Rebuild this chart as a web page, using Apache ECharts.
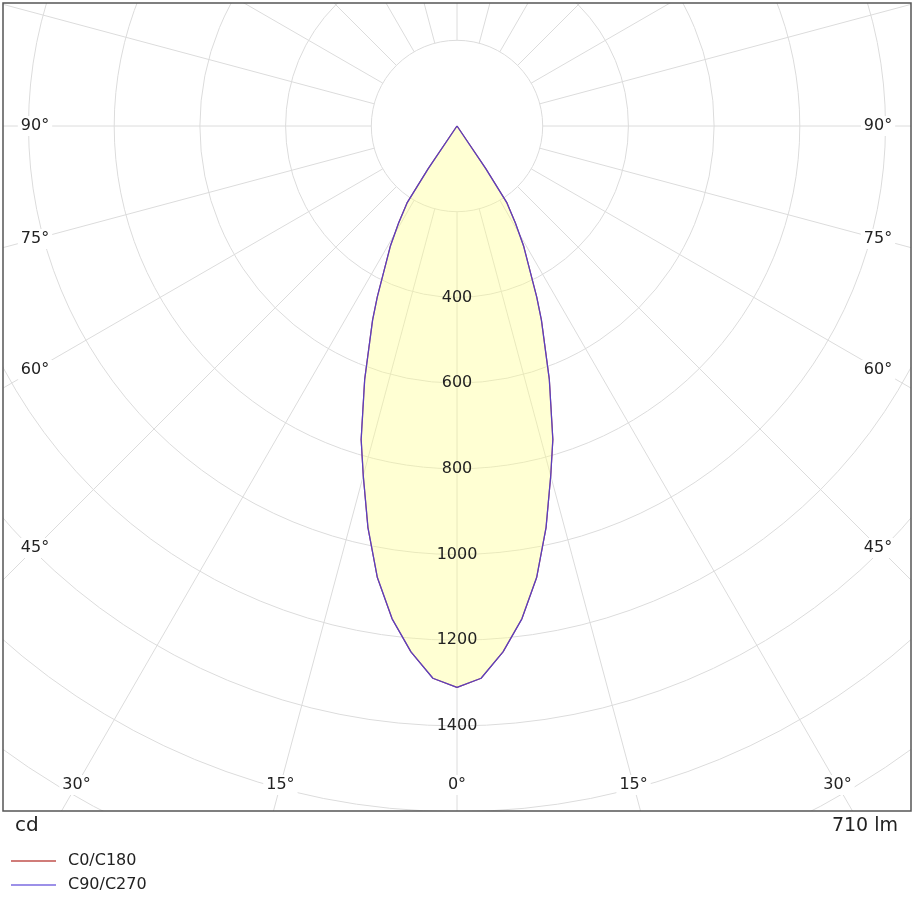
<!DOCTYPE html>
<html><head><meta charset="utf-8">
<script src="https://cdn.jsdelivr.net/npm/echarts@6/dist/echarts.min.js"></script>
<style>html,body{margin:0;padding:0;background:#fff}#c{width:913px;height:900px}</style>
</head><body><div id="c"></div>
<script>
const gammaAngles = [0, 2.5, 5, 7.5, 10, 12.5, 15, 17, 20, 23.5, 25, 29, 31, 33, 34, 35, 40, 50, 60, 70, 80, 90];
const c0c180 =      [1310, 1290, 1232, 1160, 1070, 960, 845, 765, 630, 494, 440, 321, 265, 214, 120, 0, 0, 0, 0, 0, 0, 0];
const c90c270 =     [1310, 1290, 1232, 1160, 1070, 960, 845, 765, 630, 494, 440, 321, 265, 214, 120, 0, 0, 0, 0, 0, 0, 0];
const ringLabels = [400, 600, 800, 1000, 1200, 1400];
const sideAngleLabels = [90, 75, 60, 45];
const bottomAngleLabels = [0, 15, 30];
const seriesNames = ['C0/C180', 'C90/C270'];
const fluxText = '710 lm';

function sym(vals){
  const pts=[];
  for(let i=gammaAngles.length-1;i>=0;i--) pts.push([vals[i], (360-gammaAngles[i])%360]);
  for(let i=1;i<gammaAngles.length;i++) pts.push([vals[i], gammaAngles[i]]);
  return pts;
}
const chart = echarts.init(document.getElementById('c'));
const FONT = 'DejaVu Sans';
const series = [];
for(let a=0;a<360;a+=15){
  series.push({type:'line',coordinateSystem:'polar',silent:true,symbol:'none',z:1,
    lineStyle:{color:'#dcdcdc',width:1},data:[[200,a],[2000,a]]});
}
series.push({name:seriesNames[0],type:'line',coordinateSystem:'polar',symbol:'none',z:3,
  lineStyle:{color:'#c0504d',width:1.2},data:sym(c0c180)});
series.push({name:seriesNames[1],type:'line',coordinateSystem:'polar',symbol:'none',z:4,
  lineStyle:{color:'#5a3fc0',width:1.3},areaStyle:{color:'rgba(255,255,140,0.55)'},data:sym(c90c270)});

chart.setOption({
  animation:false,
  polar:{center:[457,126],radius:857},
  angleAxis:{type:'value',min:0,max:360,startAngle:270,clockwise:true,
    axisLine:{show:false},axisTick:{show:false},axisLabel:{show:false},splitLine:{show:false}},
  radiusAxis:{type:'value',min:0,max:2000,interval:200,
    axisLine:{show:false},axisTick:{show:false},axisLabel:{show:false},
    splitLine:{show:true,lineStyle:{color:'#dcdcdc',width:1}}},
  series
});

const ctr = chart.convertToPixel({polarIndex:0},[0,0]);
const cx=ctr[0], cy=ctr[1];
const L=3,T=3,R=911,B=811;
const g=[];
const white={fill:'#fff'};
g.push({type:'rect',z:100,shape:{x:0,y:0,width:913,height:T},style:white});
g.push({type:'rect',z:100,shape:{x:0,y:0,width:L,height:900},style:white});
g.push({type:'rect',z:100,shape:{x:R,y:0,width:913-R,height:900},style:white});
g.push({type:'rect',z:100,shape:{x:0,y:B,width:913,height:900-B},style:white});
g.push({type:'rect',z:101,shape:{x:L,y:T,width:R-L,height:B-T},style:{fill:null,stroke:'#555',lineWidth:1.5}});
const ts=(extra)=>Object.assign({font:'16px '+FONT,fill:'#222',align:'center',verticalAlign:'middle'},extra);
ringLabels.forEach(v=>{
  const p=chart.convertToPixel({polarIndex:0},[v,0]);
  g.push({type:'text',z:102,x:p[0],y:p[1],style:ts({text:String(v)})});
});
const lx=35, rx=878, by=785;
sideAngleLabels.forEach(a=>{
  const r=a*Math.PI/180;
  const y = cy + (cx-lx)*Math.cos(r)/Math.sin(r);
  [lx,rx].forEach(x=>g.push({type:'text',z:102,x:x,y:y,style:ts({text:a+'°',backgroundColor:'#fff',padding:[2,3]})}));
});
bottomAngleLabels.forEach(a=>{
  const r=a*Math.PI/180;
  const d=(by-cy)*Math.tan(r);
  const xs = a===0?[cx]:[cx-d,cx+d];
  xs.forEach(x=>g.push({type:'text',z:102,x:x,y:by,style:ts({text:a+'°',backgroundColor:'#fff',padding:[2,3]})}));
});
g.push({type:'text',z:102,x:15,y:826,style:ts({text:'cd',align:'left',font:'20px '+FONT})});
g.push({type:'text',z:102,x:898,y:826,style:ts({text:fluxText,align:'right',font:'19px '+FONT})});
const legColors=['#c0504d','#7b6be0'];
seriesNames.forEach((n,i)=>{
  const y=861+i*24;
  g.push({type:'line',z:102,shape:{x1:11,y1:y,x2:56,y2:y},style:{stroke:legColors[i],lineWidth:1.3}});
  g.push({type:'text',z:102,x:68,y:y,style:ts({text:n,align:'left'})});
});
chart.setOption({graphic:{elements:g}});
</script></body></html>
